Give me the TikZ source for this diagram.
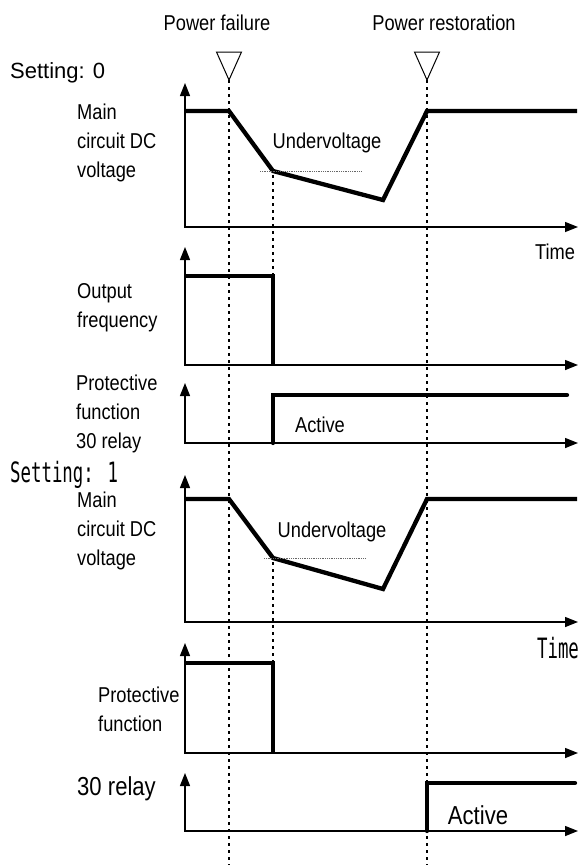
\documentclass[tikz,border=0pt]{standalone}
\usepackage{fontspec}
\setmainfont{Liberation Sans}
\newfontfamily\condfont[FakeStretch=0.85]{Liberation Sans}
\newfontfamily\gothfont[FakeStretch=0.62]{DejaVu Sans Mono}
\usetikzlibrary{arrows.meta,calc,positioning}

\tikzset{
  axes/.style={line width=1.4pt, line join=miter,
    {Triangle[length=13pt,width=10pt]}-{Triangle[length=13pt,width=10pt]}},
  signal/.style={line width=4.3pt, line join=miter},
  guide/.style={line width=1.1pt, dash pattern=on 2.5pt off 4.5pt},
  uvline/.style={line width=0.8pt, black!60, dash pattern=on 1pt off 0.8pt},
  eventmark/.style={line width=1pt, line join=miter},
  txt/.style={inner sep=0pt, anchor=base, font=\condfont\fontsize{21.5}{29}\selectfont},
  bigtxt/.style={inner sep=0pt, anchor=base, font=\condfont\fontsize{26}{30}\selectfont},
  monotxt/.style={inner sep=0pt, anchor=base, font=\gothfont\fontsize{28}{32}\selectfont},
  block/.style={txt, align=left, anchor=north west}
}

\begin{document}
\begin{tikzpicture}[x=1pt,y=-1pt]
\useasboundingbox (0,0) rectangle (582,865);

% event instants
\coordinate (pf) at (229,80);
\coordinate (pr) at (427,80);
\coordinate (pfend) at (229,865);
\coordinate (prend) at (427,865);

\node[txt] (pftext) at (217,30) {Power failure};
\node[txt] (prtext) at (444,30) {Power restoration};
\draw[eventmark] (pf) -- ++(-12.5,-28) -- ++(25,0) -- cycle;
\draw[eventmark] (pr) -- ++(-12.5,-28) -- ++(25,0) -- cycle;
\draw[guide] (pf) -- (pfend);
\draw[guide] (pr) -- (prend);

% Setting 0
\node[inner sep=0pt, anchor=base west, font=\fontsize{22}{26}\selectfont] (set0) at (10,78) {Setting: 0};

\draw[guide] (273,175) -- (273,276);
\draw[axes] (185,83) -- (185,227) -- (578,227);
\draw[signal] (185,111) -- (229,111) -- (273,171) -- (383,200) -- (427,111) -- (577,111);
\draw[uvline] (260,171) -- (362,171);
\node[block] (dcv0) at (77,104) {Main\\circuit DC\\voltage};
\node[txt] (uv0) at (327,148) {Undervoltage};
\node[txt] (time0) at (555,259) {Time};

\draw[axes] (185,247) -- (185,365) -- (578,365);
\draw[signal] (185,276) -- (273,276) -- (273,365);
\node[block] (freq0) at (77,283) {Output\\frequency};

\draw[axes] (185,383) -- (185,443) -- (578,443);
\draw[signal, line cap=round] (273,443) -- (273,395) -- (567,395);
\node[block] (relay0) at (76,375) {Protective\\function\\30 relay};
\node[txt] (act0) at (320,432) {Active};

% Setting 1
\node[monotxt, anchor=base west] (set1) at (10,482) {Setting: 1};

\draw[guide] (273,562) -- (273,663);
\draw[axes] (185,475) -- (185,622) -- (578,622);
\draw[signal] (185,499) -- (229,499) -- (273,558) -- (383,589) -- (427,499) -- (577,499);
\draw[uvline] (264,558) -- (365,558);
\node[block] (dcv1) at (77,492) {Main\\circuit DC\\voltage};
\node[txt] (uv1) at (332,537) {Undervoltage};
\node[monotxt] (time1) at (558,658) {Time};

\draw[axes] (185,643) -- (185,753) -- (578,753);
\draw[signal] (185,663) -- (273,663) -- (273,753);
\node[block] (prot1) at (98,687) {Protective\\function};

\draw[axes] (185,773) -- (185,831) -- (578,831);
\draw[signal, line cap=round] (427,831) -- (427,783) -- (575,783);
\node[bigtxt, anchor=base west] (relay1) at (77,795) {30 relay};
\node[bigtxt] (act1) at (478,824) {Active};
\end{tikzpicture}
\end{document}
